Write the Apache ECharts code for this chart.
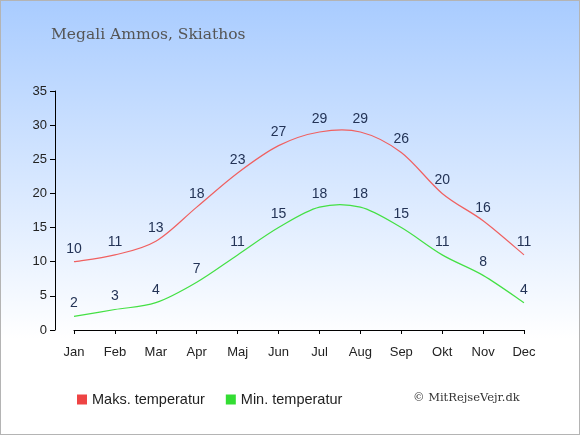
<!DOCTYPE html>
<html><head><meta charset="utf-8">
<script src="https://cdn.jsdelivr.net/npm/echarts@6/dist/echarts.min.js"></script>
<style>html,body{margin:0;padding:0;}#c{width:580px;height:435px;box-sizing:border-box;border:1px solid #b4b4b4;}</style>
</head><body><div id="c"></div>
<script>
const months = ['Jan','Feb','Mar','Apr','Maj','Jun','Jul','Aug','Sep','Okt','Nov','Dec'];
const maxTemp = [10,11,13,18,23,27,29,29,26,20,16,11];
const minTemp = [2,3,4,7,11,15,18,18,15,11,8,4];
const yTicks = {min:0, max:35, interval:5};
const chart = echarts.init(document.getElementById('c'));
const FONT = 'Liberation Sans, Arial, sans-serif';

// Catmull-Rom curve through library-projected points, plus value labels
function curveSeries(name, values, color, legendColor) {
  return {
    name: name, type:'custom', silent:true, z:3, color: legendColor,
    data: values.map((v,i)=>[i,v]),
    encode:{x:0, y:1},
    renderItem: function(params, api) {
      const i = params.dataIndex;
      const pt = api.coord([api.value(0), api.value(1)]);
      const children = [{type:'text', x:pt[0], y:pt[1]-6,
        style:{text:String(api.value(1)), fill:'#233356', font:'14px ' + FONT, align:'center', verticalAlign:'bottom'}}];
      if (i === 0) {
        const p = values.map((v,k)=>api.coord([k,v]));
        const n = p.length;
        let d = 'M' + p[0][0] + ' ' + p[0][1];
        for (let k=0;k<n-1;k++) {
          const p0 = p[Math.max(k-1,0)], p1 = p[k], p2 = p[k+1], p3 = p[Math.min(k+2,n-1)];
          const c1 = [p1[0]+(p2[0]-p0[0])/6, p1[1]+(p2[1]-p0[1])/6];
          const c2 = [p2[0]-(p3[0]-p1[0])/6, p2[1]-(p3[1]-p1[1])/6];
          d += ' C' + c1[0]+' '+c1[1]+' '+c2[0]+' '+c2[1]+' '+p2[0]+' '+p2[1];
        }
        children.push({type:'path', shape:{pathData:d}, style:{fill:null, stroke:color, lineWidth:1.2}});
      }
      return {type:'group', children:children};
    }
  };
}

chart.setOption({
  backgroundColor: new echarts.graphic.LinearGradient(0,0,0,1,[{offset:0,color:'#a9ccff'},{offset:0.78,color:'#ffffff'},{offset:1,color:'#ffffff'}]),
  animation:false,
  title:{text:'Megali Ammos, Skiathos', left:45, top:21, textStyle:{fontFamily:'DejaVu Serif, serif', fontWeight:'normal', fontSize:15.5, color:'#555555'}},
  grid:{left:73, right:55, top:90, bottom:104},
  legend:{left:71, top:386, itemWidth:10, itemHeight:10, itemGap:21, icon:'rect',
    textStyle:{fontSize:14.5, color:'#222', fontFamily:FONT},
    data:['Maks. temperatur','Min. temperatur']},
  graphic:[{type:'text', left:412, top:391, style:{text:'© MitRejseVejr.dk', font:'11.5px "DejaVu Serif", serif', fill:'#333'}}],
  xAxis:{type:'category', data:months, boundaryGap:false, offset:9,
    axisLine:{lineStyle:{color:'#000'}}, axisTick:{show:true, length:4, lineStyle:{color:'#000'}},
    axisLabel:{color:'#222', fontSize:13, margin:7, fontFamily:FONT}, splitLine:{show:false}},
  yAxis:{type:'value', min:yTicks.min, max:yTicks.max, interval:yTicks.interval, offset:19,
    axisLine:{show:true, lineStyle:{color:'#000'}}, axisTick:{show:true, length:5, lineStyle:{color:'#000'}},
    axisLabel:{color:'#222', fontSize:13, margin:8, fontFamily:FONT}, splitLine:{show:false}},
  series:[
    curveSeries('Maks. temperatur', maxTemp, '#f06060', '#ee4444'),
    curveSeries('Min. temperatur', minTemp, '#44e044', '#33dd33')
  ]
});
</script></body></html>
